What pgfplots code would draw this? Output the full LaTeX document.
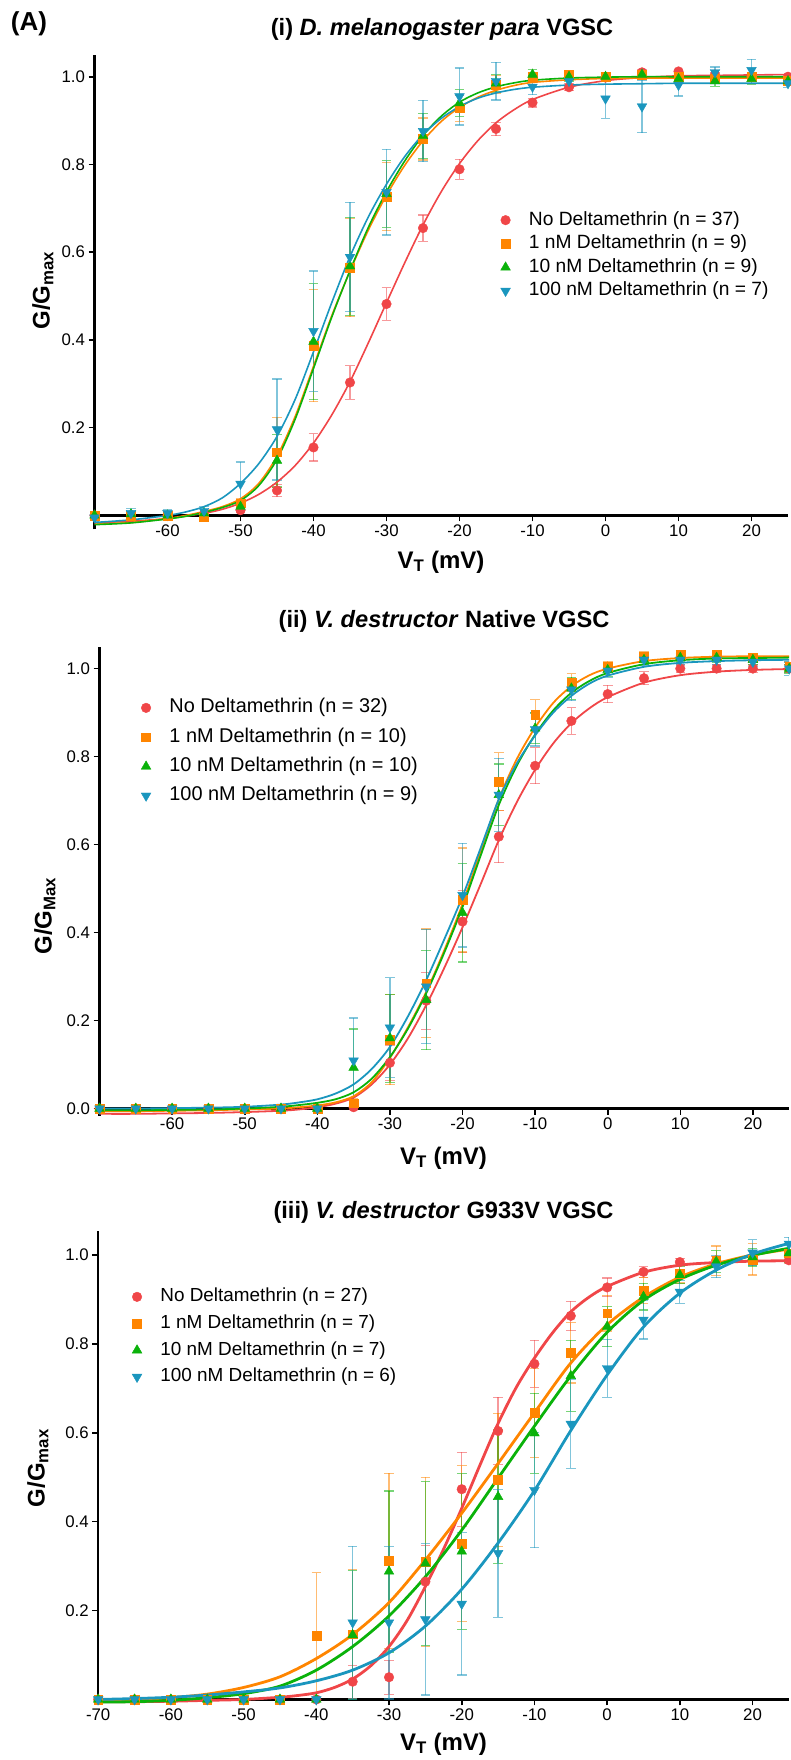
\documentclass[border=0pt]{standalone}
\usepackage{fontspec}
\setmainfont{Liberation Sans}
\usepackage{pgfplots}
\pgfplotsset{compat=1.18}
\usepackage{pgfplotstable}

\definecolor{cR}{RGB}{240,70,72}
\definecolor{cO}{RGB}{255,133,0}
\definecolor{cG}{RGB}{10,178,10}
\definecolor{cB}{RGB}{26,150,190}

% ---------- Panel (i) data ----------
\pgfplotstableread{
x y e
-70 0.0 0
-65 0.0 0
-60 0.0 0
-55 0.003 0
-50 0.012 0.005
-45 0.057 0.014
-40 0.155 0.031
-35 0.303 0.038
-30 0.482 0.037
-25 0.655 0.030
-20 0.789 0.023
-15 0.881 0.015
-10 0.941 0.010
-5 0.976 0.008
0 0.998 0.006
5 1.010 0.006
10 1.012 0.005
15 1.005 0.005
20 1.000 0.005
25 1.000 0.005
}\rA
\pgfplotstableread{
x y e
-70 0.0 0.005
-65 0.0 0
-60 0.0 0
-55 -0.004 0.005
-50 0.028 0.010
-45 0.144 0.080
-40 0.387 0.128
-35 0.565 0.112
-30 0.727 0.078
-25 0.858 0.048
-20 0.928 0.030
-15 0.982 0.020
-10 1.000 0.010
-5 1.005 0.010
0 1.000 0.008
5 1.005 0.010
10 1.000 0.008
15 0.995 0.010
20 1.000 0.010
25 0.990 0.010
}\oA
\pgfplotstableread{
x y e
-70 0.0 0
-65 0.003 0
-60 0.0 0
-55 0.005 0
-50 0.020 0.010
-45 0.125 0.060
-40 0.396 0.132
-35 0.568 0.112
-30 0.733 0.076
-25 0.865 0.052
-20 0.940 0.030
-15 0.985 0.020
-10 1.005 0.012
-5 1.000 0.010
0 1.000 0.010
5 1.005 0.010
10 0.995 0.010
15 0.990 0.012
20 0.995 0.012
25 0.990 0.010
}\gA
\pgfplotstableread{
x y e
-70 -0.005 0.010
-65 0.005 0.010
-60 0.005 0.008
-55 0.010 0.010
-50 0.072 0.050
-45 0.196 0.115
-40 0.420 0.137
-35 0.589 0.125
-30 0.737 0.098
-25 0.876 0.070
-20 0.955 0.065
-15 0.990 0.043
-10 0.977 0.018
-5 0.990 0.015
0 0.950 0.045
5 0.932 0.060
10 0.981 0.025
15 1.010 0.012
20 1.015 0.025
25 0.985 0.010
}\bA

% ---------- Panel (ii) data ----------
\pgfplotstableread{
x y e
-70 0 0
-65 0 0
-60 0 0
-55 0 0
-50 0 0
-45 0 0
-40 0 0
-35 0.003 0.005
-30 0.104 0.040
-25 0.245 0.065
-20 0.425 0.070
-15 0.618 0.059
-10 0.779 0.041
-5 0.881 0.030
0 0.942 0.020
5 0.978 0.015
10 1.000 0.008
15 1.000 0.008
20 1.000 0.008
25 1.000 0.008
}\rB
\pgfplotstableread{
x y e
-70 0 0
-65 0 0
-60 0 0
-55 0 0
-50 0 0
-45 0 0
-40 0 0
-35 0.012 0.010
-30 0.157 0.103
-25 0.285 0.123
-20 0.474 0.118
-15 0.743 0.066
-10 0.895 0.034
-5 0.968 0.020
0 1.005 0.012
5 1.028 0.010
10 1.032 0.010
15 1.032 0.010
20 1.025 0.010
25 1.005 0.010
}\oB
\pgfplotstableread{
x y e
-70 0 0
-65 0 0
-60 0 0
-55 0 0
-50 0 0
-45 0 0
-40 0 0
-35 0.093 0.088
-30 0.160 0.100
-25 0.247 0.113
-20 0.445 0.112
-15 0.713 0.070
-10 0.864 0.035
-5 0.955 0.025
0 0.997 0.015
5 1.020 0.010
10 1.025 0.010
15 1.025 0.010
20 1.020 0.010
25 1.000 0.010
}\gB
\pgfplotstableread{
x y e
-70 0 0
-65 0 0
-60 0 0
-55 0 0
-50 0 0
-45 0 0
-40 0 0
-35 0.109 0.097
-30 0.184 0.113
-25 0.277 0.130
-20 0.485 0.118
-15 0.713 0.083
-10 0.862 0.038
-5 0.952 0.025
0 0.995 0.015
5 1.020 0.012
10 1.020 0.010
15 1.020 0.010
20 1.015 0.010
25 1.000 0.015
}\bB

% ---------- Panel (iii) data ----------
\pgfplotstableread{
x y e
-70 0 0
-65 0 0
-60 0 0
-55 0 0
-50 0 0
-45 0 0
-40 0.0 0.005
-35 0.040 0.037
-30 0.050 0.038
-25 0.265 0.081
-20 0.473 0.083
-15 0.604 0.076
-10 0.755 0.053
-5 0.863 0.033
0 0.927 0.021
5 0.962 0.012
10 0.984 0.008
15 0.988 0.008
20 0.988 0.008
25 0.988 0.008
}\rC
\pgfplotstableread{
x y e
-70 0 0
-65 0 0
-60 0 0
-55 0 0
-50 0 0
-45 0 0
-40 0.143 0.142
-35 0.147 0.145
-30 0.312 0.197
-25 0.310 0.190
-20 0.351 0.175
-15 0.494 0.150
-10 0.645 0.100
-5 0.780 0.068
0 0.869 0.040
5 0.920 0.030
10 0.957 0.020
15 0.987 0.033
20 0.990 0.035
25 1.004 0.020
}\oC
\pgfplotstableread{
x y e
-70 0 0
-65 0 0
-60 0 0
-55 0 0
-50 0 0
-45 0 0
-40 0 0
-35 0.145 0.145
-30 0.288 0.181
-25 0.306 0.184
-20 0.333 0.175
-15 0.456 0.150
-10 0.599 0.090
-5 0.728 0.080
0 0.839 0.045
5 0.906 0.030
10 0.955 0.020
15 0.985 0.025
20 0.995 0.020
25 1.004 0.020
}\gC
\pgfplotstableread{
x y e
-70 0 0
-65 0 0
-60 0 0
-55 0 0
-50 0 0
-45 0 0
-40 0.0 0.005
-35 0.173 0.172
-30 0.173 0.172
-25 0.180 0.170
-20 0.215 0.160
-15 0.329 0.144
-10 0.471 0.130
-5 0.620 0.100
0 0.745 0.065
5 0.854 0.043
10 0.917 0.026
15 0.974 0.025
20 1.005 0.029
25 1.025 0.015
}\bC

\pgfplotsset{
  panel/.style={
    scale only axis, anchor=south west,
    xmin=-70, xmax=25,
    axis x line=middle, axis y line=left,
    axis line style={-, line width=2.2pt, black},
    tick align=outside, major tick length=6pt,
    every tick/.style={black, line width=1.6pt},
    tick label style={font=\fontsize{16.8}{18}\selectfont, black},
    xtick={-60,-50,...,20},
    xticklabels={-60,-50,-40,-30,-20,-10,0,10,20},
    hide obscured x ticks=false, hide obscured y ticks=false,
    legend cell align=left,
    legend style={draw=none, fill=none, inner sep=0pt, anchor=north west,
      nodes={inner sep=0pt, text height=14pt, text depth=4pt},
      /tikz/every odd column/.append style={column sep=18.5pt}},
    legend image code/.code={\draw[##1] plot coordinates {(0pt,0pt)};},
  },
  dat/.style={only marks,
    error bars/.cd, y dir=both, y explicit,
    error bar style={line width=1.2pt, opacity=0.55, solid},
    error mark options={rotate=90, mark size=4.8pt, line width=1.2pt, opacity=0.55}},
  mR/.style={color=cR, mark=*, mark size=4.8pt, mark options={solid, line width=0.4pt}},
  mO/.style={color=cO, mark=square*, mark size=4.4pt, mark options={solid, line width=0.4pt}},
  mG/.style={color=cG, mark=triangle*, mark size=5.6pt, mark options={solid, line width=0.4pt}},
  mB/.style={color=cB, mark=triangle*, mark size=5.6pt, mark options={solid, line width=0.4pt, rotate=180}},
}

\begin{document}
\begin{tikzpicture}
\path[use as bounding box] (0,0) rectangle (790pt,1760pt);

% ================= Panel (i) =================
\begin{axis}[panel, at={(94.5pt,1230.5pt)}, width=693.5pt, height=474.7pt,
  ymin=-0.032, ymax=1.05,
  ytick={0.2,0.4,0.6,0.8,1.0}, yticklabels={0.2,0.4,0.6,0.8,1.0},
  legend style={at={(axis cs:-14.38,0.694)}, font=\fontsize{19.2}{21}\selectfont, row sep=5.6pt}]
\addplot[mR, dat] table[x=x, y=y, y error=e] {\rA};
\addplot[mO, dat] table[x=x, y=y, y error=e] {\oA};
\addplot[mG, dat] table[x=x, y=y, y error=e] {\gA};
\addplot[mB, dat] table[x=x, y=y, y error=e] {\bA};
\addplot[cR, line width=1.6pt, smooth, no marks, forget plot] coordinates {
(-70,-0.017)(-65,-0.013)(-60,-0.007)(-55,0.005)(-52.5,0.014)(-50,0.028)(-47.5,0.048)(-45,0.076)(-42.5,0.114)(-40,0.165)(-37.5,0.229)(-35,0.305)(-32.5,0.393)(-30,0.485)(-27.5,0.576)(-25,0.662)(-22.5,0.738)(-20,0.802)(-17.5,0.854)(-15,0.895)(-12.5,0.925)(-10,0.948)(-5,0.976)(0,0.991)(5,0.998)(10,1.002)(15,1.003)(20,1.004)(25,1.005)};
\addplot[cO, line width=1.6pt, smooth, no marks, forget plot] coordinates {
(-70,-0.020)(-65,-0.016)(-60,-0.007)(-57.5,0.0)(-55,0.009)(-52.5,0.020)(-50,0.038)(-47.5,0.073)(-45,0.135)(-42.5,0.226)(-40,0.340)(-37.5,0.455)(-35,0.557)(-32.5,0.650)(-30,0.730)(-27.5,0.798)(-25,0.854)(-22.5,0.898)(-20,0.930)(-17.5,0.953)(-15,0.969)(-12.5,0.980)(-10,0.987)(-5,0.993)(0,0.996)(5,0.997)(10,0.997)(15,0.997)(20,0.997)(25,0.997)};
\addplot[cG, line width=1.6pt, smooth, no marks, forget plot] coordinates {
(-70,-0.021)(-65,-0.017)(-60,-0.008)(-57.5,-0.002)(-55,0.007)(-52.5,0.018)(-50,0.034)(-47.5,0.068)(-45,0.128)(-42.5,0.220)(-40,0.335)(-37.5,0.452)(-35,0.558)(-32.5,0.656)(-30,0.738)(-27.5,0.808)(-25,0.866)(-22.5,0.910)(-20,0.942)(-17.5,0.963)(-15,0.977)(-12.5,0.986)(-10,0.992)(-5,0.997)(0,0.999)(5,1.0)(10,1.0)(15,1.0)(20,1.0)(25,1.0)};
\addplot[cB, line width=1.6pt, smooth, no marks, forget plot] coordinates {
(-70,-0.016)(-65,-0.010)(-60,0.0)(-57.5,0.008)(-55,0.020)(-52.5,0.040)(-50,0.073)(-47.5,0.118)(-45,0.180)(-42.5,0.265)(-40,0.373)(-37.5,0.485)(-35,0.590)(-32.5,0.680)(-30,0.755)(-27.5,0.818)(-25,0.868)(-22.5,0.905)(-20,0.932)(-17.5,0.951)(-15,0.963)(-12.5,0.971)(-10,0.976)(-5,0.981)(0,0.983)(5,0.984)(10,0.985)(15,0.985)(20,0.985)(25,0.985)};
\legend{No Deltamethrin (n = 37), 1 nM Deltamethrin (n = 9), 10 nM Deltamethrin (n = 9), 100 nM Deltamethrin (n = 7)}
\end{axis}

% ================= Panel (ii) =================
\begin{axis}[panel, at={(99.5pt,644.4pt)}, width=689.7pt, height=469pt,
  ymin=-0.016, ymax=1.05,
  ytick={0,0.2,0.4,0.6,0.8,1.0}, yticklabels={0.0,0.2,0.4,0.6,0.8,1.0},
  legend style={at={(axis cs:-64.28,0.9316)}, font=\fontsize{19.9}{21}\selectfont, row sep=11.3pt}]
\addplot[mR, dat] table[x=x, y=y, y error=e] {\rB};
\addplot[mO, dat] table[x=x, y=y, y error=e] {\oB};
\addplot[mG, dat] table[x=x, y=y, y error=e] {\gB};
\addplot[mB, dat] table[x=x, y=y, y error=e] {\bB};
\addplot[cR, line width=1.8pt, smooth, no marks, forget plot] coordinates {
(-70,-0.012)(-65,-0.012)(-60,-0.011)(-55,-0.010)(-50,-0.008)(-45,-0.005)(-42.5,-0.002)(-40,0.003)(-37.5,0.011)(-35,0.025)(-32.5,0.055)(-30,0.100)(-27.5,0.160)(-25,0.235)(-22.5,0.320)(-20,0.412)(-17.5,0.510)(-15,0.610)(-12.5,0.697)(-10,0.770)(-7.5,0.830)(-5,0.876)(-2.5,0.910)(0,0.935)(5,0.968)(10,0.985)(15,0.993)(20,0.997)(25,0.999)};
\addplot[cO, line width=1.8pt, smooth, no marks, forget plot] coordinates {
(-70,-0.006)(-65,-0.006)(-60,-0.005)(-55,-0.004)(-50,-0.002)(-45,0.0)(-42.5,0.003)(-40,0.007)(-37.5,0.014)(-35,0.028)(-32.5,0.060)(-30,0.115)(-27.5,0.185)(-25,0.265)(-22.5,0.360)(-20,0.465)(-17.5,0.585)(-15,0.703)(-12.5,0.795)(-10,0.866)(-7.5,0.922)(-5,0.960)(-2.5,0.985)(0,1.000)(5,1.017)(10,1.024)(15,1.027)(20,1.028)(25,1.028)};
\addplot[cG, line width=1.8pt, smooth, no marks, forget plot] coordinates {
(-70,-0.004)(-65,-0.004)(-60,-0.003)(-55,-0.002)(-50,0.0)(-45,0.004)(-42.5,0.008)(-40,0.013)(-37.5,0.021)(-35,0.037)(-32.5,0.068)(-30,0.117)(-27.5,0.182)(-25,0.262)(-22.5,0.355)(-20,0.458)(-17.5,0.575)(-15,0.690)(-12.5,0.780)(-10,0.850)(-7.5,0.905)(-5,0.945)(-2.5,0.972)(0,0.990)(5,1.010)(10,1.019)(15,1.023)(20,1.024)(25,1.025)};
\addplot[cB, line width=1.8pt, smooth, no marks, forget plot] coordinates {
(-70,0.0)(-65,0.0)(-60,0.001)(-55,0.002)(-50,0.004)(-45,0.009)(-42.5,0.014)(-40,0.021)(-37.5,0.034)(-35,0.055)(-32.5,0.090)(-30,0.140)(-27.5,0.210)(-25,0.292)(-22.5,0.385)(-20,0.482)(-17.5,0.592)(-15,0.703)(-12.5,0.785)(-10,0.848)(-7.5,0.900)(-5,0.938)(-2.5,0.966)(0,0.984)(5,1.004)(10,1.013)(15,1.017)(20,1.019)(25,1.020)};
\legend{No Deltamethrin (n = 32), 1 nM Deltamethrin (n = 10), 10 nM Deltamethrin (n = 10), 100 nM Deltamethrin (n = 9)}
\end{axis}

% ================= Panel (iii) =================
\begin{axis}[panel, at={(98.2pt,55.2pt)}, width=690.7pt, height=473.4pt,
  ymin=-0.012, ymax=1.053,
  xtick={-70,-60,...,20}, xticklabels={-70,-60,-50,-40,-30,-20,-10,0,10,20},
  ytick={0.2,0.4,0.6,0.8,1.0}, yticklabels={0.2,0.4,0.6,0.8,1.0},
  legend style={at={(axis cs:-65.35,0.9264)}, font=\fontsize{18.9}{20}\selectfont, row sep=8.7pt}]
\addplot[mR, dat] table[x=x, y=y, y error=e] {\rC};
\addplot[mO, dat] table[x=x, y=y, y error=e] {\oC};
\addplot[mG, dat] table[x=x, y=y, y error=e] {\gC};
\addplot[mB, dat] table[x=x, y=y, y error=e] {\bC};
\addplot[cR, line width=2.8pt, smooth, no marks, forget plot] coordinates {
(-70,-0.005)(-65,-0.005)(-60,-0.004)(-55,-0.002)(-50,0.0)(-45,0.005)(-42.5,0.009)(-40,0.015)(-37.5,0.027)(-35,0.046)(-32.5,0.076)(-30,0.119)(-27.5,0.178)(-25,0.254)(-22.5,0.338)(-20,0.430)(-17.5,0.527)(-15,0.621)(-12.5,0.702)(-10,0.768)(-7.5,0.825)(-5,0.872)(-2.5,0.905)(0,0.929)(5,0.961)(10,0.977)(15,0.983)(20,0.986)(25,0.987)};
\addplot[cO, line width=2.8pt, smooth, no marks, forget plot] coordinates {
(-70,-0.004)(-65,-0.001)(-60,0.004)(-55,0.012)(-50,0.027)(-45,0.051)(-40,0.092)(-35,0.146)(-30,0.218)(-25,0.314)(-20,0.419)(-15,0.531)(-10,0.645)(-5,0.757)(0,0.843)(5,0.905)(10,0.950)(15,0.980)(20,1.000)(25,1.013)};
\addplot[cG, line width=2.8pt, smooth, no marks, forget plot] coordinates {
(-70,-0.006)(-65,-0.005)(-60,-0.002)(-55,0.004)(-50,0.013)(-45,0.030)(-40,0.066)(-35,0.119)(-30,0.188)(-25,0.276)(-20,0.381)(-15,0.498)(-10,0.615)(-5,0.728)(0,0.826)(5,0.898)(10,0.945)(15,0.977)(20,0.999)(25,1.015)};
\addplot[cB, line width=2.8pt, smooth, no marks, forget plot] coordinates {
(-70,0.0)(-65,0.002)(-60,0.005)(-55,0.010)(-50,0.017)(-45,0.026)(-40,0.042)(-35,0.066)(-30,0.105)(-25,0.165)(-20,0.248)(-15,0.352)(-10,0.470)(-5,0.605)(0,0.730)(5,0.838)(10,0.914)(15,0.966)(20,1.002)(25,1.026)};
\legend{No Deltamethrin (n = 27), 1 nM Deltamethrin (n = 7), 10 nM Deltamethrin (n = 7), 100 nM Deltamethrin (n = 6)}
\end{axis}

% ================= Titles and labels =================
\node[font=\fontsize{26}{28}\selectfont\bfseries] at (29pt,1736pt) {(A)};
\node[font=\fontsize{23.6}{25}\selectfont\bfseries] at (442pt,1730.4pt) {(i) \textit{D. melanogaster para} VGSC};
\node[font=\fontsize{23.6}{25}\selectfont\bfseries] at (444pt,1139pt) {(ii) \textit{V. destructor} Native VGSC};
\node[font=\fontsize{23.6}{25}\selectfont\bfseries] at (443.5pt,548pt) {(iii) \textit{V. destructor} G933V VGSC};
\node[font=\fontsize{24}{26}\selectfont\bfseries, rotate=90] at (43pt,1469.5pt) {G/G\textsubscript{max}};
\node[font=\fontsize{24}{26}\selectfont\bfseries, rotate=90] at (45pt,844pt) {G/G\textsubscript{Max}};
\node[font=\fontsize{24}{26}\selectfont\bfseries, rotate=90] at (37.8pt,292pt) {G/G\textsubscript{max}};
\node[font=\fontsize{24}{26}\selectfont\bfseries] at (441pt,1198pt) {V\textsubscript{T} (mV)};
\node[font=\fontsize{24}{26}\selectfont\bfseries] at (443.5pt,602pt) {V\textsubscript{T} (mV)};
\node[font=\fontsize{24}{26}\selectfont\bfseries] at (443.5pt,16pt) {V\textsubscript{T} (mV)};
\end{tikzpicture}
\end{document}
